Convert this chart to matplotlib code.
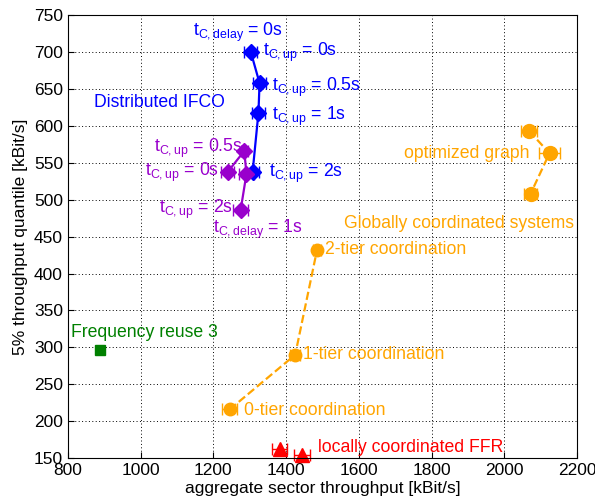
import numpy as np
import matplotlib
matplotlib.use("Agg")
import matplotlib.pyplot as plt

plt.rcParams['font.family'] = ['Liberation Sans', 'DejaVu Sans']
plt.rcParams['mathtext.fontset'] = 'custom'
plt.rcParams['mathtext.rm'] = 'Liberation Sans'

# distributed IFCO, t_C,delay = 0s
ifco0_x = [1303, 1327, 1324, 1308]
ifco0_y = [700, 658, 618, 538]
ifco0_err = [18, 18, 18, 18]

# distributed IFCO, t_C,delay = 1s
ifco1_x = [1240, 1285, 1291, 1275]
ifco1_y = [538, 566, 535, 486]
ifco1_err = [18, 10, 20, 20]

# globally coordinated systems
tier_x = [1245, 1425, 1485]
tier_y = [216, 290, 432]
tier_err = [20, 14, 10]

opt_x = [2068, 2124, 2072]
opt_y = [593, 563, 508]
opt_err = [22, 28, 18]

reuse_x = [888]
reuse_y = [297]
reuse_err = [6]

ffr_x = [1382, 1444]
ffr_y = [162, 154]
ffr_err = [20, 22]

blue = '#0000ff'
purple = '#9900cc'
orange = '#ffa500'
green = '#008000'
red = '#ff0000'

fig = plt.figure(figsize=(5.95, 5.04), dpi=100)
ax = fig.add_axes([0.114, 0.091, 0.856, 0.879])

ax.errorbar(ifco0_x, ifco0_y, xerr=ifco0_err, color=blue, marker='D', ms=8,
            lw=1.6, capsize=4, elinewidth=1)
ax.errorbar(ifco1_x, ifco1_y, xerr=ifco1_err, color=purple, marker='D', ms=8,
            lw=1.6, capsize=4, elinewidth=1)
ax.errorbar(tier_x, tier_y, xerr=tier_err, color=orange, marker='o', ms=9,
            lw=1.6, ls='--', capsize=4, elinewidth=1)
ax.errorbar(opt_x, opt_y, xerr=opt_err, color=orange, marker='o', ms=10,
            lw=1.6, ls='--', capsize=4, elinewidth=1)
ax.errorbar(reuse_x, reuse_y, xerr=reuse_err, color=green, marker='s', ms=7,
            lw=1.6, capsize=3, elinewidth=1)
ax.errorbar(ffr_x, ffr_y, xerr=ffr_err, color=red, marker='^', ms=10,
            lw=0, capsize=4, elinewidth=1, clip_on=False)

fs = 12.7
up = r'$\mathregular{t_{C,up}}$'
dl = r'$\mathregular{t_{C,delay}}$'
ax.text(1144, 727, dl + ' = 0s', color=blue, fontsize=fs, va='center')
ax.text(1336, 699, up + ' = 0s', color=blue, fontsize=fs, va='center')
ax.text(1360, 652, up + ' = 0.5s', color=blue, fontsize=fs, va='center')
ax.text(1360, 613, up + ' = 1s', color=blue, fontsize=fs, va='center')
ax.text(1353, 535, up + ' = 2s', color=blue, fontsize=fs, va='center')
ax.text(872, 632, 'Distributed IFCO', color=blue, fontsize=fs, va='center')

ax.text(1280, 570, up + ' = 0.5s', color=purple, fontsize=fs, va='center', ha='right')
ax.text(1216, 537, up + ' = 0s', color=purple, fontsize=fs, va='center', ha='right')
ax.text(1255, 487, up + ' = 2s', color=purple, fontsize=fs, va='center', ha='right')
ax.text(1200, 460, dl + ' = 1s', color=purple, fontsize=fs, va='center')

ax.text(2070, 563, 'optimized graph', color=orange, fontsize=fs, va='center', ha='right')
ax.text(2192, 468, 'Globally coordinated systems', color=orange, fontsize=fs,
        va='center', ha='right')
ax.text(1506, 432, '2-tier coordination', color=orange, fontsize=fs, va='center')
ax.text(1447, 290, '1-tier coordination', color=orange, fontsize=fs, va='center')
ax.text(1283, 215, '0-tier coordination', color=orange, fontsize=fs, va='center')
ax.text(810, 320, 'Frequency reuse 3', color=green, fontsize=fs, va='center')
ax.text(1487, 165, 'locally coordinated FFR', color=red, fontsize=fs, va='center')

ax.set_xlim(800, 2200)
ax.set_ylim(150, 750)
ax.set_xticks(np.arange(800, 2201, 200))
ax.set_yticks(np.arange(150, 751, 50))
ax.grid(True, color='black', ls=(0, (1, 2.5)), lw=0.7)
ax.tick_params(direction='in', labelsize=12.5, length=4)
ax.set_xlabel('aggregate sector throughput [kBit/s]', fontsize=12.5, labelpad=2)
ax.set_ylabel('5% throughput quantile [kBit/s]', fontsize=12.5, labelpad=4)

fig.savefig('out.png', dpi=100)
